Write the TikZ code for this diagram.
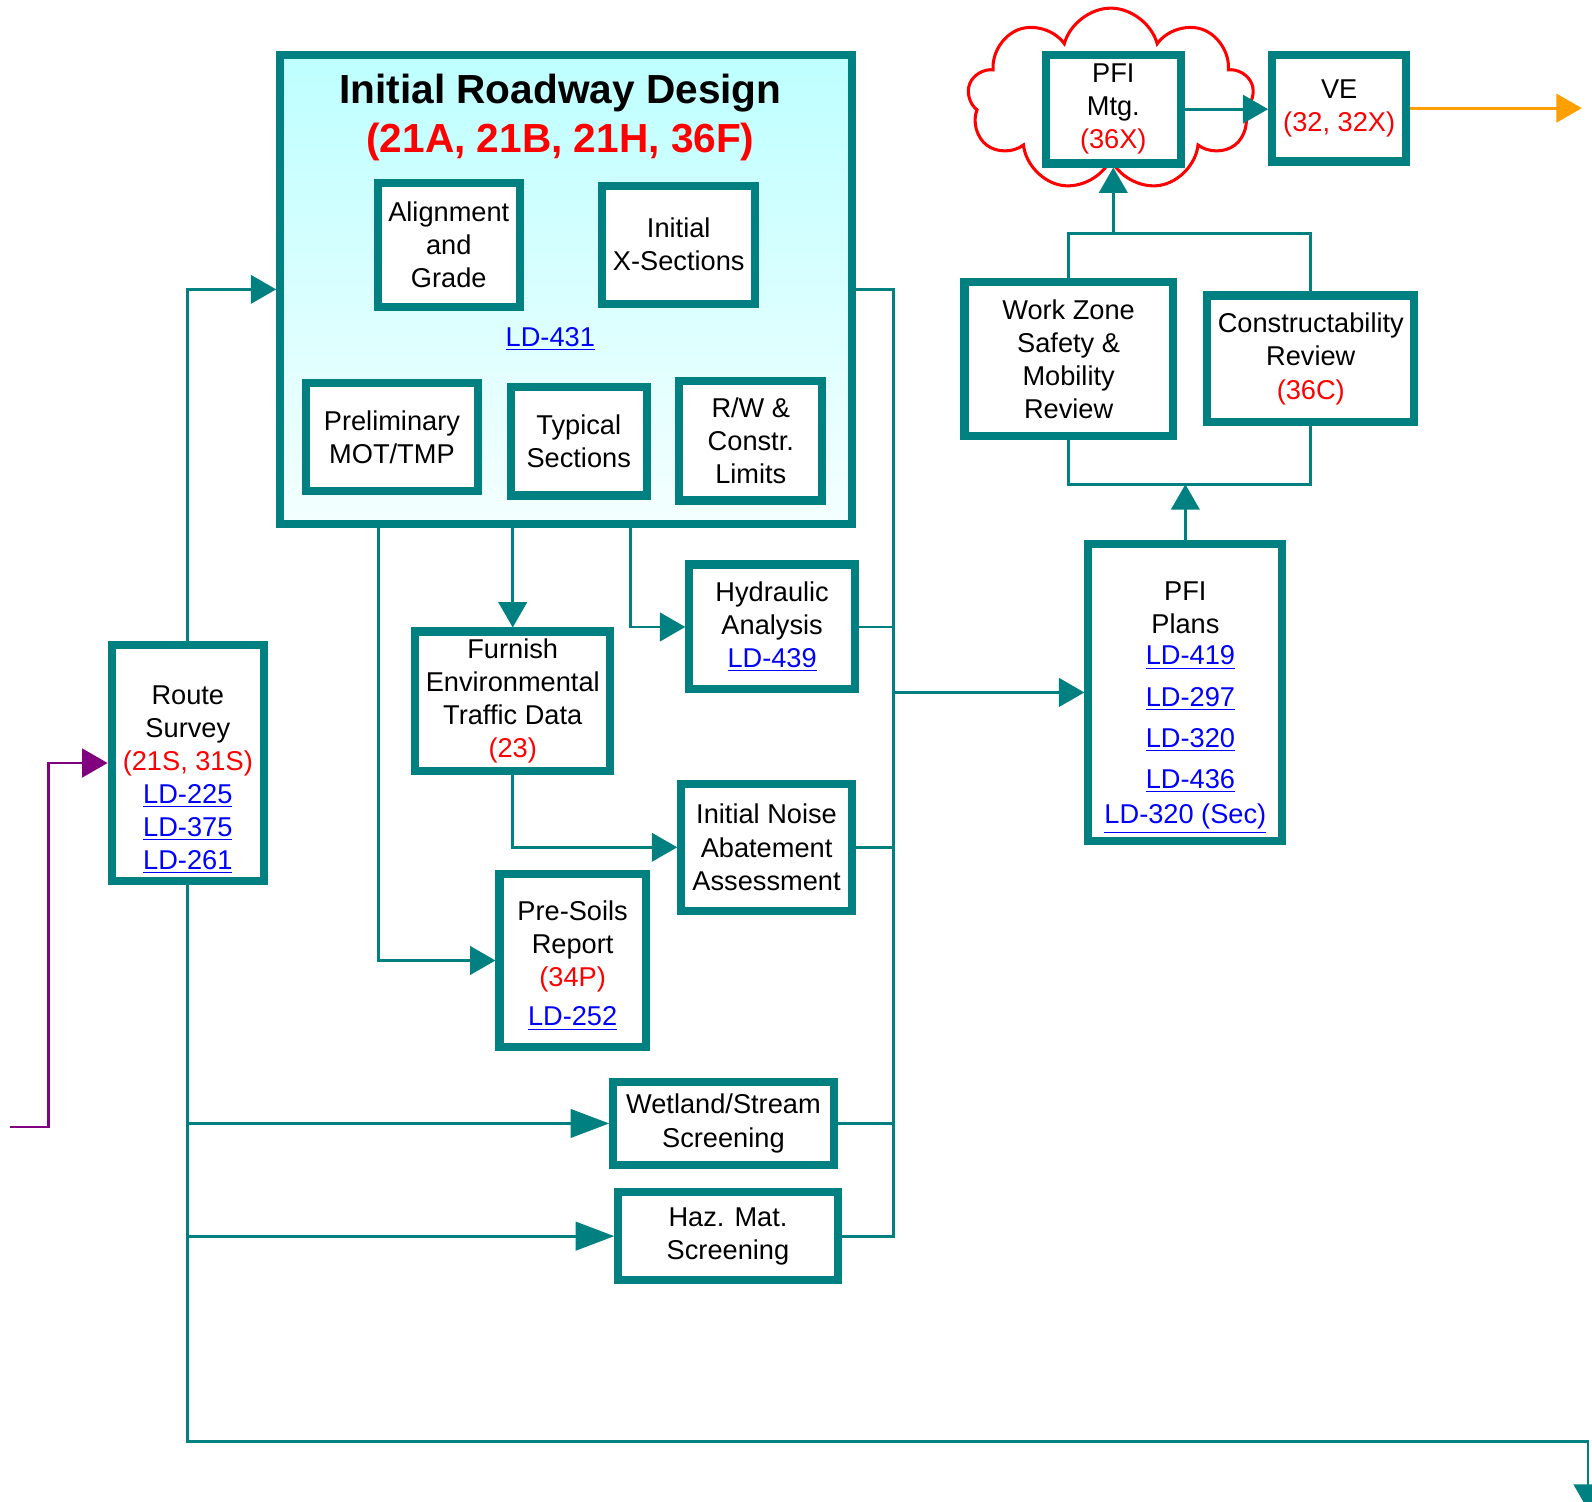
\documentclass[tikz,border=0pt]{standalone}
\usepackage{fontspec}
\setmainfont{Liberation Sans}
\usetikzlibrary{arrows.meta,shapes.symbols}
\definecolor{flowteal}{RGB}{0,128,128}
\definecolor{flowcyan}{RGB}{190,255,255}
\definecolor{flowpale}{RGB}{244,255,255}
\definecolor{flowpurple}{RGB}{128,0,128}
\definecolor{floworange}{RGB}{255,160,0}
\newcommand{\ldref}[1]{\textcolor{blue}{\underline{#1}}}
\newcommand{\stdref}[1]{\textcolor{red}{#1}}
\tikzset{every node/.style={font=\fontsize{13.4}{16.3}\selectfont},
    stepbox/.style={draw=flowteal, line width=4pt, fill=white, inner sep=0pt, align=center},
    flow/.style={draw=flowteal, line width=1.4pt, -{Triangle[length=12.5pt,width=14pt]}},
    longflow/.style={flow, -{Triangle[length=19pt,width=14pt]}},
    bus/.style={draw=flowteal, line width=1.4pt},
    }

\begin{document}
\begin{tikzpicture}[x=0.5pt, y=-0.5pt]
\useasboundingbox (0,0) rectangle (1568,1479);
% initial roadway design
\node[draw=flowteal, line width=4pt, top color=flowcyan, bottom color=flowpale,
      minimum width=281.5pt, minimum height=231pt] (ird) at (557.5,285) {};
\node[font=\fontsize{20}{24}\selectfont\bfseries, align=center] (irdtitle) at (552,116)
    {Initial Roadway Design\\\textcolor{red}{(21A, 21B, 21H, 36F)}};
\node[stepbox, minimum width=70pt, minimum height=61pt] (align) at (442,241) {Alignment\\and\\Grade};
\node[stepbox, minimum width=75.5pt, minimum height=58pt] (xsec) at (668.5,241) {Initial\\X-Sections};
\node (irdref) at (542,334) {\ldref{LD-431}};
\node[stepbox, minimum width=85pt, minimum height=53.5pt] (mot) at (386,430.5) {Preliminary\\MOT/TMP};
\node[stepbox, minimum width=67pt, minimum height=53.5pt] (typical) at (570,434.5) {Typical\\Sections};
\node[stepbox, minimum width=70.5pt, minimum height=59pt] (rw) at (739.5,434) {R/W \&\\Constr.\\Limits};
% survey and studies
\node[stepbox, minimum width=75pt, minimum height=116.5pt] (route) at (185,751.5) {};
\node[align=center] (routetext) at (185,768)
    {Route\\Survey\\\stdref{(21S, 31S)}\\\ldref{LD-225}\\\ldref{LD-375}\\\ldref{LD-261}};
\node[stepbox, minimum width=96pt, minimum height=68.5pt] (traffic) at (505,690.5)
    {Furnish\\Environmental\\Traffic Data\\\stdref{(23)}};
\node[stepbox, minimum width=81.5pt, minimum height=61.5pt] (hydro) at (760.5,617.5)
    {Hydraulic\\Analysis\\\ldref{LD-439}};
\node[stepbox, minimum width=84pt, minimum height=62.5pt] (noise) at (755,834.5)
    {Initial Noise\\Abatement\\Assessment};
\node[stepbox, minimum width=72pt, minimum height=85pt] (soils) at (564,946) {};
\node[align=center] (soilstext) at (564,951)
    {Pre-Soils\\Report\\\stdref{(34P)}\\[3pt]\ldref{LD-252}};
\node[stepbox, minimum width=108.5pt, minimum height=40.5pt] (wetland) at (712.5,1106.5)
    {Wetland/Stream\\Screening};
\node[stepbox, minimum width=108pt, minimum height=43.5pt] (hazmat) at (717,1217.5)
    {Haz. Mat.\\Screening};
% pfi
\node[stepbox, minimum width=95.5pt, minimum height=146pt] (plans) at (1167.5,682) {};
\node[align=center] (planstext) at (1167.5,697)
    {PFI\\Plans\\[-1pt]\hspace*{5pt}\ldref{LD-419}\\[4pt]\hspace*{5pt}\ldref{LD-297}\\[4pt]\hspace*{5pt}\ldref{LD-320}\\[4pt]\hspace*{5pt}\ldref{LD-436}\\[1pt]\ldref{LD-320 (Sec)}};
\node[stepbox, minimum width=102.5pt, minimum height=75.5pt] (workzone) at (1052.5,353.5)
    {Work Zone\\Safety \&\\Mobility\\Review};
\node[stepbox, minimum width=102pt, minimum height=62.5pt] (constr) at (1291,353.5)
    {Constructability\\Review\\\stdref{(36C)}};
\node[cloud, draw=red, line width=1.5pt, fill=white, cloud puffs=9,
      minimum width=141pt, minimum height=90pt] (pficloud) at (1094,98) {};
\node[stepbox, minimum width=66.5pt, minimum height=53.5pt] (pfimtg) at (1096.5,107.5)
    {PFI\\Mtg.\\\stdref{(36X)}};
\node[stepbox, minimum width=66pt, minimum height=52.5pt] (ve) at (1319,106.5)
    {VE\\\stdref{(32, 32X)}};

\coordinate (busx) at (880,0);
\coordinate (surveyin) at (10,1110);
\coordinate (downturn) at (1564,1420);
\coordinate (downout) at (1564,1487);
\coordinate (reviewjoin) at (1167.5,477);
\coordinate (reviewtop) at (0,230);
\coordinate (veout) at (1558,107);

% from route survey
\draw[flow] (route.north) |- (ird.west);
\draw[flow] (route.south) |- (downturn) -- (downout);
\draw[longflow] (route.south |- wetland.west) -- (wetland.west);
\draw[longflow] (route.south |- hazmat.west) -- (hazmat.west);
\draw[flow, draw=flowpurple] (surveyin) -- ++(38,0) |- (route.west);
% from initial roadway design
\draw[flow] ([xshift=-92.25pt]ird.south) |- (soils.west);
\draw[flow] (traffic.north |- ird.south) -- (traffic.north);
\draw[flow] ([xshift=31.75pt]ird.south) |- (hydro.west);
\draw[flow] (traffic.south) |- (noise.west);
% collector
\draw[bus] (ird.east) -| (busx |- hazmat.east) -- (hazmat.east);
\draw[bus] (hydro.east) -- (hydro.east -| busx);
\draw[bus] (noise.east) -- (noise.east -| busx);
\draw[bus] (wetland.east) -- (wetland.east -| busx);
\draw[flow] (busx |- plans.west) -- (plans.west);
% reviews
\draw[flow] (plans.north) -- (reviewjoin);
\draw[bus] (workzone.south) |- (reviewjoin -| constr.south) -- (constr.south);
\draw[bus] (workzone.north) |- (constr.north |- reviewtop) -- (constr.north);
\draw[flow] (pfimtg.south |- reviewtop) -- (pfimtg.south);
\draw[flow] (pfimtg.east) -- (pfimtg.east -| ve.west);
\draw[flow, draw=floworange] (ve.east) -- (ve.east -| veout);
\end{tikzpicture}
\end{document}
